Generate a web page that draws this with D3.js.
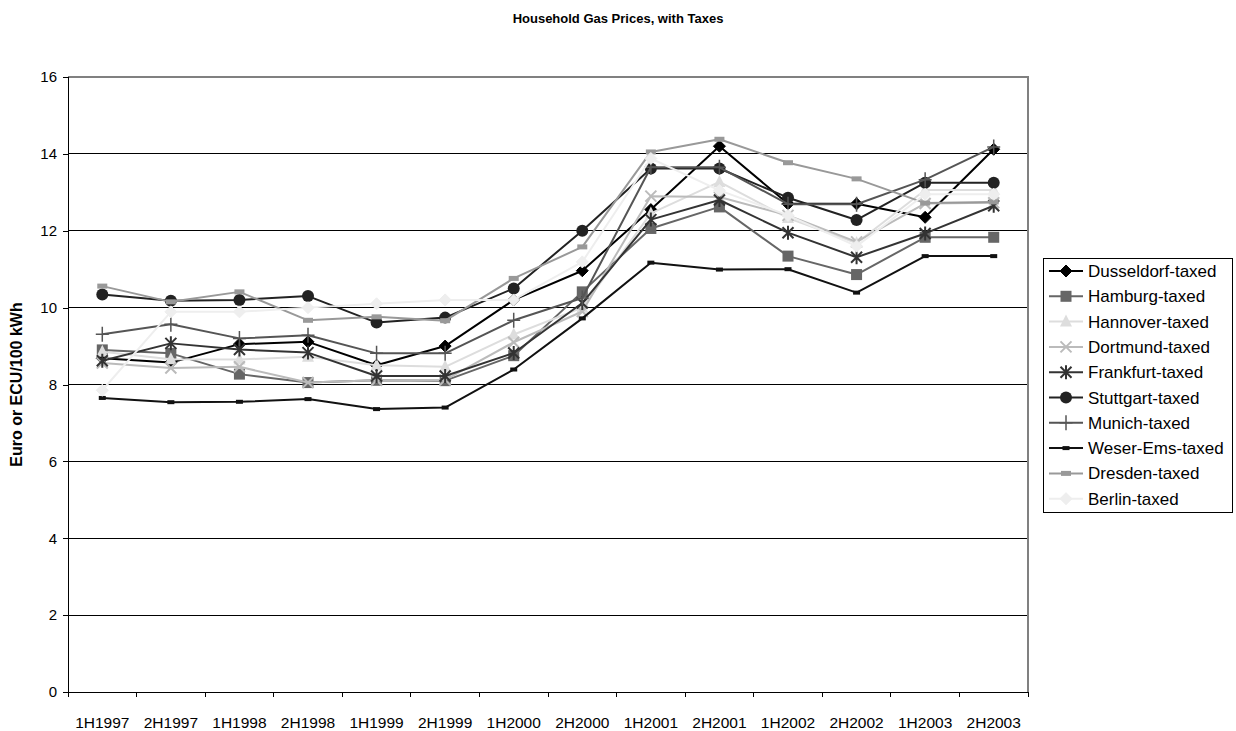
<!DOCTYPE html>
<html>
<head>
<meta charset="utf-8">
<script src="https://cdn.jsdelivr.net/npm/d3@7"></script>
<style>
  body { margin: 0; background: #fff; }
  svg text { font-family: "Liberation Sans", Arial, sans-serif; }
</style>
</head>
<body>
<svg id="chart" width="1236" height="731"></svg>
<script>
const periods = ["1H1997","2H1997","1H1998","2H1998","1H1999","2H1999","1H2000","2H2000","1H2001","2H2001","1H2002","2H2002","1H2003","2H2003"];

const dusseldorf = [8.68, 8.57, 9.05, 9.11, 8.50, 9.00, 10.20, 10.96, 12.55, 14.20, 12.70, 12.70, 12.35, 14.12];
const hamburg    = [8.90, 8.81, 8.27, 8.05, 8.11, 8.10, 8.75, 10.41, 12.06, 12.62, 11.34, 10.86, 11.83, 11.83];
const hannover   = [8.85, 8.66, 8.65, 8.72, 8.50, 8.46, 9.30, 10.00, 12.45, 13.27, 12.33, 11.68, 13.06, 13.06];
const dortmund   = [8.56, 8.43, 8.46, 8.05, 8.11, 8.12, 9.10, 9.90, 12.90, 12.88, 12.40, 11.71, 12.71, 12.73];
const frankfurt  = [8.62, 9.07, 8.91, 8.83, 8.22, 8.22, 8.82, 10.12, 12.29, 12.80, 11.95, 11.31, 11.93, 12.65];
const stuttgart  = [10.34, 10.18, 10.20, 10.30, 9.61, 9.74, 10.50, 12.00, 13.62, 13.62, 12.86, 12.28, 13.25, 13.25];
const munich     = [9.31, 9.57, 9.20, 9.28, 8.81, 8.81, 9.67, 10.25, 13.65, 13.65, 12.69, 12.69, 13.33, 14.18];
const weserEms   = [7.65, 7.54, 7.55, 7.62, 7.36, 7.40, 8.39, 9.72, 11.17, 10.99, 11.00, 10.39, 11.34, 11.34];
const dresden    = [10.56, 10.15, 10.41, 9.67, 9.76, 9.66, 10.76, 11.58, 14.05, 14.38, 13.77, 13.35, 12.72, 12.75];
const berlin     = [7.85, 9.89, 9.89, 10.00, 10.10, 10.20, 10.20, 11.19, 13.88, 13.05, 12.40, 11.60, 12.95, 12.95];

const yTicks = [0, 2, 4, 6, 8, 10, 12, 14, 16];

const series = [
  { name: "Dusseldorf-taxed", values: dusseldorf, color: "#000000", marker: "diamond" },
  { name: "Hamburg-taxed",    values: hamburg,    color: "#666666", marker: "square" },
  { name: "Hannover-taxed",   values: hannover,   color: "#dddddd", marker: "triangle" },
  { name: "Dortmund-taxed",   values: dortmund,   color: "#bbbbbb", marker: "x" },
  { name: "Frankfurt-taxed",  values: frankfurt,  color: "#333333", marker: "asterisk" },
  { name: "Stuttgart-taxed",  values: stuttgart,  color: "#222222", marker: "circle" },
  { name: "Munich-taxed",     values: munich,     color: "#555555", marker: "plus" },
  { name: "Weser-Ems-taxed",  values: weserEms,   color: "#111111", marker: "dash" },
  { name: "Dresden-taxed",    values: dresden,    color: "#999999", marker: "bar" },
  { name: "Berlin-taxed",     values: berlin,     color: "#eeeeee", marker: "diamond" }
];

const svg = d3.select("#chart");
const plot = { left: 68, right: 1028, top: 77, bottom: 692 };

const x = d3.scaleBand().domain(periods).range([plot.left, plot.right]);
const y = d3.scaleLinear().domain([0, 16]).range([plot.bottom, plot.top]);

// title
svg.append("text")
  .attr("x", 618).attr("y", 23)
  .attr("text-anchor", "middle")
  .attr("font-size", 13).attr("font-weight", "bold")
  .text("Household Gas Prices, with Taxes");

// gridlines
svg.append("g").selectAll("line")
  .data(yTicks.filter(d => d > 0 && d < 16))
  .join("line")
  .attr("x1", plot.left).attr("x2", plot.right)
  .attr("y1", d => y(d)).attr("y2", d => y(d))
  .attr("stroke", "#000").attr("stroke-width", 1).attr("shape-rendering", "crispEdges");

// plot frame (top and right edges)
svg.append("path")
  .attr("d", `M${plot.left},${y(16)}H${plot.right}V${plot.bottom}`)
  .attr("fill", "none").attr("stroke", "#808080").attr("stroke-width", 1.5)
  .attr("shape-rendering", "crispEdges");

// y axis
const yAxis = svg.append("g")
  .attr("transform", `translate(${plot.left},0)`)
  .call(d3.axisLeft(y).tickValues(yTicks).tickSize(5).tickPadding(6).tickFormat(d3.format("d")));
yAxis.selectAll("text").attr("font-size", 15).attr("fill", "#000").attr("font-family", "Liberation Sans, Arial, sans-serif");
yAxis.selectAll("line,path").attr("stroke", "#000").attr("shape-rendering", "crispEdges");

// x axis, ticks between categories
const xAxisG = svg.append("g").attr("transform", `translate(0,${plot.bottom})`);
xAxisG.append("line")
  .attr("x1", plot.left).attr("x2", plot.right)
  .attr("stroke", "#000").attr("shape-rendering", "crispEdges");
const bounds = periods.map(p => x(p)).concat([plot.right]);
xAxisG.selectAll("line.tick").data(bounds).join("line")
  .attr("class", "tick")
  .attr("x1", d => d).attr("x2", d => d).attr("y1", 0).attr("y2", 5)
  .attr("stroke", "#000").attr("shape-rendering", "crispEdges");
xAxisG.selectAll("text").data(periods).join("text")
  .attr("x", d => x(d) + x.bandwidth() / 2)
  .attr("y", 36)
  .attr("text-anchor", "middle")
  .attr("font-size", 15.5)
  .text(d => d);

// y axis title
svg.append("text")
  .attr("transform", `translate(22,${(plot.top + plot.bottom) / 2}) rotate(-90)`)
  .attr("text-anchor", "middle")
  .attr("font-size", 16).attr("font-weight", "bold")
  .text("Euro or ECU/100 kWh");

// marker shapes
function drawMarker(g, type, color) {
  switch (type) {
    case "diamond":
      g.append("path").attr("d", "M0,-6L6,0L0,6L-6,0Z").attr("fill", color).attr("stroke", color);
      break;
    case "square":
      g.append("rect").attr("x", -5.5).attr("y", -5.5).attr("width", 11).attr("height", 11).attr("fill", color);
      break;
    case "triangle":
      g.append("path").attr("d", "M0,-7L6,5L-6,5Z").attr("fill", color);
      break;
    case "x":
      g.append("path").attr("d", "M-5.5,-5.5L5.5,5.5M-5.5,5.5L5.5,-5.5").attr("stroke", color).attr("stroke-width", 2);
      break;
    case "asterisk":
      g.append("path").attr("d", "M-5.5,-5.5L5.5,5.5M-5.5,5.5L5.5,-5.5M0,-7L0,7").attr("stroke", color).attr("stroke-width", 2);
      break;
    case "circle":
      g.append("circle").attr("r", 6).attr("fill", color);
      break;
    case "plus":
      g.append("path").attr("d", "M-6.5,0L6.5,0M0,-7.5L0,7.5").attr("stroke", color).attr("stroke-width", 1.5);
      break;
    case "dash":
      g.append("rect").attr("x", -3.5).attr("y", -2).attr("width", 7).attr("height", 4).attr("fill", color);
      break;
    case "bar":
      g.append("rect").attr("x", -5).attr("y", -2.5).attr("width", 10).attr("height", 5).attr("fill", color);
      break;
  }
}

const line = d3.line()
  .x((d, i) => x(periods[i]) + x.bandwidth() / 2)
  .y(d => y(d));

const lines = svg.append("g");
series.forEach(s => {
  const g = lines.append("g");
  g.append("path")
    .attr("d", line(s.values))
    .attr("fill", "none")
    .attr("stroke", s.color)
    .attr("stroke-width", 2)
    .attr("stroke-linejoin", "round");
  s.values.forEach((v, i) => {
    const m = g.append("g")
      .attr("transform", `translate(${x(periods[i]) + x.bandwidth() / 2},${y(v)})`);
    drawMarker(m, s.marker, s.color);
  });
});

// legend
const lg = svg.append("g");
const lgTop = 258, lgLeft = 1043, lgWidth = 189, rowH = 25.3;
lg.append("rect")
  .attr("x", lgLeft).attr("y", lgTop)
  .attr("width", lgWidth).attr("height", rowH * series.length + 1)
  .attr("fill", "#fff").attr("stroke", "#000").attr("stroke-width", 1)
  .attr("shape-rendering", "crispEdges");
series.forEach((s, i) => {
  const cy = lgTop + 13 + i * rowH;
  lg.append("line")
    .attr("x1", lgLeft + 6).attr("x2", lgLeft + 40)
    .attr("y1", cy).attr("y2", cy)
    .attr("stroke", s.color).attr("stroke-width", 2);
  const m = lg.append("g").attr("transform", `translate(${lgLeft + 23},${cy})`);
  drawMarker(m, s.marker, s.color);
  lg.append("text")
    .attr("x", lgLeft + 45).attr("y", cy + 6)
    .attr("font-size", 17)
    .text(s.name);
});
</script>
</body>
</html>
